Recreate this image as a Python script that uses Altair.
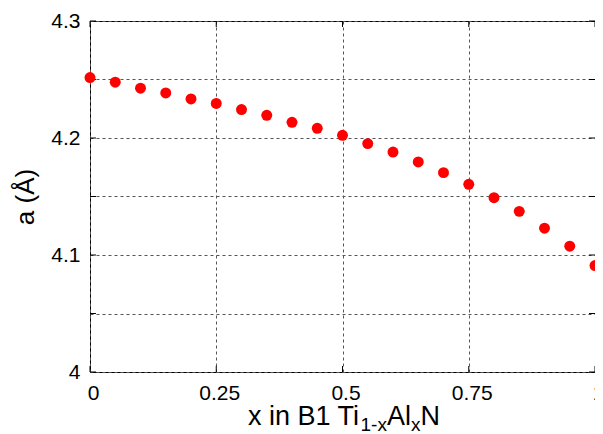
import altair as alt
import pandas as pd

# ---- data ----
x_vals = [0.0, 0.05, 0.10, 0.15, 0.20, 0.25, 0.30, 0.35, 0.40, 0.45, 0.50,
          0.55, 0.60, 0.65, 0.70, 0.75, 0.80, 0.85, 0.90, 0.95, 1.00]
a_vals = [4.2517, 4.2477, 4.2426, 4.2385, 4.2334, 4.2295, 4.2243, 4.2194,
          4.2134, 4.2083, 4.2023, 4.1952, 4.1880, 4.1795, 4.1704, 4.1604,
          4.1490, 4.1373, 4.1229, 4.1075, 4.0910]

x_ticks = [0, 0.25, 0.5, 0.75, 1]
y_grid = [4.0, 4.05, 4.1, 4.15, 4.2, 4.25, 4.3]

# x-axis title pieces: (text, font size, baseline shift)
title_pieces = [("x in B1 Ti", 27, 0), ("1-x", 19, 6), ("Al", 27, 0), ("x", 19, 6), ("N", 27, 0)]

FONT = "Liberation Sans"
W, H = 505, 351
TICK = 6

df = pd.DataFrame({"x": x_vals, "a": a_vals})
ytick_df = pd.DataFrame({"a": y_grid})
xtick_df = pd.DataFrame({"x": x_ticks})

# approximate Arial/Liberation Sans advance widths (em) for laying out the title pieces
EM = {'x': 0.5, ' ': 0.278, 'i': 0.222, 'n': 0.556, 'B': 0.667, '1': 0.556,
      'T': 0.611, '-': 0.333, 'A': 0.667, 'l': 0.222, 'N': 0.722}

xscale = alt.Scale(domain=[0, 1], nice=False, zero=False)
yscale = alt.Scale(domain=[4.0, 4.3], nice=False, zero=False)

points = alt.Chart(df).mark_circle(size=120, color="#ff0000", opacity=1).encode(
    x=alt.X("x:Q", scale=xscale,
            axis=alt.Axis(values=x_ticks, labelExpr="toString(datum.value)",
                          grid=True, gridDash=[3, 3],
                          gridColor="#555", gridWidth=1, ticks=False, tickSize=0,
                          domain=False, labelFont=FONT, labelFontSize=21,
                          labelColor="black", labelPadding=10, labelFlush=False,
                          labelOffset=3, labelOverlap=False, title=None)),
    y=alt.Y("a:Q", scale=yscale,
            axis=alt.Axis(values=y_grid,
                          labelExpr="round(datum.value*100) % 10 == 0 ? toString(datum.value) : ''",
                          grid=True, gridDash=[3, 3], gridColor="#555", gridWidth=1,
                          ticks=False, tickSize=0, domain=False, labelFont=FONT,
                          labelFontSize=21, labelColor="black", labelPadding=10,
                          labelOverlap=False, title="a (Å)", titleFont=FONT,
                          titleFontSize=26, titleFontWeight="normal", titleColor="black",
                          titleX=-65, titleY=H / 2, titleBaseline="middle")),
)

# inward tick marks on all four sides (gnuplot style)
tick_left = alt.Chart(ytick_df).mark_rule(color="black", strokeWidth=1).encode(
    y=alt.Y("a:Q", scale=yscale), x=alt.value(0), x2=alt.value(TICK))
tick_right = alt.Chart(ytick_df).mark_rule(color="black", strokeWidth=1).encode(
    y=alt.Y("a:Q", scale=yscale), x=alt.value(W - TICK), x2=alt.value(W))
tick_bottom = alt.Chart(xtick_df).mark_rule(color="black", strokeWidth=1).encode(
    x=alt.X("x:Q", scale=xscale), y=alt.value(H - TICK), y2=alt.value(H))
tick_top = alt.Chart(xtick_df).mark_rule(color="black", strokeWidth=1).encode(
    x=alt.X("x:Q", scale=xscale), y=alt.value(0), y2=alt.value(TICK))

layers = [tick_left, tick_right, tick_bottom, tick_top, points]
cur_x = 158.0
base_y = 404
for txt, fs, shift in title_pieces:
    layers.append(
        alt.Chart(df.head(1)).mark_text(
            text=txt, font=FONT, fontSize=fs, align="left", baseline="alphabetic",
            color="black"
        ).encode(x=alt.value(cur_x), y=alt.value(base_y + shift))
    )
    cur_x += sum(EM.get(c, 0.55) for c in txt) * fs

chart = alt.layer(*layers).properties(
    width=W, height=H,
    autosize=alt.AutoSizeParams(type="none"),
    padding={"left": 82, "top": 13, "right": 0, "bottom": 70},
).configure_view(stroke="black", strokeWidth=1)

chart.save("out.html", embed_options={"renderer": "svg", "actions": False})
